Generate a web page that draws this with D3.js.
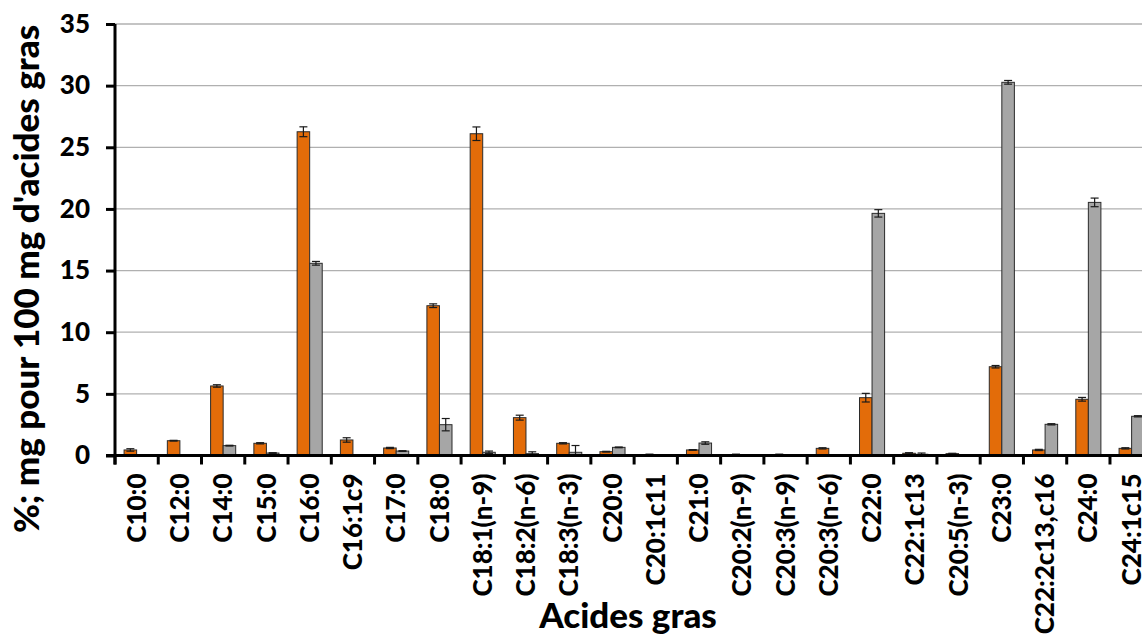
<!DOCTYPE html>
<html>
<head>
<meta charset="utf-8">
<script src="https://cdn.jsdelivr.net/npm/d3@7"></script>
<style>
  html, body { margin: 0; padding: 0; background: #fff; }
  svg { display: block; }
  text { font-family: Lato, "Open Sans", sans-serif; font-weight: 900; fill: #000; }
</style>
</head>
<body>
<svg id="chart" width="1142" height="637"></svg>
<script>
const categories = ["C10:0","C12:0","C14:0","C15:0","C16:0","C16:1c9","C17:0","C18:0","C18:1(n-9)","C18:2(n-6)","C18:3(n-3)","C20:0","C20:1c11","C21:0","C20:2(n-9)","C20:3(n-9)","C20:3(n-6)","C22:0","C22:1c13","C20:5(n-3)","C23:0","C22:2c13,c16","C24:0","C24:1c15"];
const seriesA = [0.45, 1.2, 5.64, 0.99, 26.26, 1.26, 0.61, 12.15, 26.1, 3.07, 0.99, 0.31, 0.08, 0.45, 0.08, 0.08, 0.58, 4.69, 0.18, 0.15, 7.2, 0.45, 4.56, 0.58];
const errorsA = [0.1, 0.03, 0.1, 0.05, 0.4, 0.18, 0.05, 0.15, 0.55, 0.2, 0.05, 0.03, 0.03, 0.03, 0.03, 0.03, 0.05, 0.35, 0.05, 0.03, 0.1, 0.05, 0.15, 0.05];
const seriesB = [0, 0, 0.8, 0.2, 15.59, 0, 0.36, 2.5, 0.26, 0.15, 0.26, 0.66, 0, 1.01, 0, 0, 0, 19.64, 0.1, 0, 30.27, 2.53, 20.53, 3.18];
const errorsB = [0, 0, 0.03, 0.03, 0.15, 0, 0.03, 0.5, 0.1, 0.15, 0.55, 0.03, 0, 0.1, 0, 0, 0, 0.3, 0.1, 0, 0.15, 0.05, 0.35, 0.05];
const yTicks = [0, 5, 10, 15, 20, 25, 30, 35];
const yTitle = "%; mg pour 100 mg d'acides gras";
const xTitle = "Acides gras";

const svg = d3.select("#chart");
const mLeft = 115, mTop = 24, mBottom = 455.5, step = 43.26;
const mRight = mLeft + step * categories.length;

const x = d3.scaleBand().domain(categories).range([mLeft, mRight]).padding(0);
const y = d3.scaleLinear().domain([0, 35]).range([mBottom, mTop]);
const bw = x.bandwidth() * 0.29;

// gridlines
svg.append("g").selectAll("line").data(yTicks.filter(d => d > 0)).join("line")
  .attr("x1", mLeft).attr("x2", 1142)
  .attr("y1", d => y(d)).attr("y2", d => y(d))
  .attr("stroke", "#b0b0b0").attr("stroke-width", 1.3);

// bars
const g = svg.append("g");
function drawSeries(vals, errs, color, offset) {
  g.append("g").selectAll("rect").data(categories).join("rect")
    .attr("x", d => x(d) + x.bandwidth() / 2 + offset)
    .attr("width", bw)
    .attr("y", (d, i) => y(vals[i]))
    .attr("height", (d, i) => y(0) - y(vals[i]))
    .attr("fill", color)
    .attr("stroke", "#2b2b2b").attr("stroke-width", 1);
  const eg = g.append("g").attr("stroke", "#1a1a1a").attr("stroke-width", 1.2);
  categories.forEach((c, i) => {
    if (!errs[i]) return;
    const cx = x(c) + x.bandwidth() / 2 + offset + bw / 2;
    const y1 = y(vals[i] + errs[i]), y2 = y(Math.max(0, vals[i] - errs[i]));
    eg.append("line").attr("x1", cx).attr("x2", cx).attr("y1", y1).attr("y2", y2);
    eg.append("line").attr("x1", cx - 4).attr("x2", cx + 4).attr("y1", y1).attr("y2", y1);
    eg.append("line").attr("x1", cx - 4).attr("x2", cx + 4).attr("y1", y2).attr("y2", y2);
  });
}
drawSeries(seriesA, errorsA, "#E36C09", -bw);
drawSeries(seriesB, errorsB, "#A6A6A6", 0);

// y axis
const yAxis = svg.append("g").attr("transform", `translate(${mLeft},0)`)
  .call(d3.axisLeft(y).tickValues(yTicks).tickSize(9).tickPadding(16).tickFormat(d3.format("d")));
yAxis.select(".domain").attr("stroke", "#000").attr("stroke-width", 3).attr("d", `M0,${mTop}V${mBottom + 9}`);
yAxis.selectAll(".tick line").attr("stroke", "#000").attr("stroke-width", 3);
yAxis.selectAll(".tick text").style("font-size", "26px").style("font-family", "Lato, sans-serif").style("font-weight", "900");

// x axis
const xAxis = svg.append("g").attr("transform", `translate(0,${mBottom})`)
  .call(d3.axisBottom(x).tickSize(0).tickPadding(0));
xAxis.select(".domain").attr("stroke", "#000").attr("stroke-width", 3).attr("d", `M${mLeft - 9},0H1142`);
xAxis.selectAll(".tick text")
  .style("font-size", "26px").style("font-family", "Lato, sans-serif").style("font-weight", "900")
  .attr("text-anchor", "end").attr("dy", "0.35em")
  .attr("transform", "translate(0,18) rotate(-90)")
  .attr("y", 0).attr("x", 0);
const bounds = categories.map(c => x(c)).concat([mRight]);
xAxis.append("g").selectAll("line").data(bounds.filter(b => b <= 1142)).join("line")
  .attr("x1", d => d).attr("x2", d => d).attr("y1", 0).attr("y2", 9)
  .attr("stroke", "#000").attr("stroke-width", 3);

// titles
svg.append("text").attr("transform", `translate(39,279) rotate(-90)`)
  .attr("text-anchor", "middle").style("font-size", "35px").text(yTitle);
svg.append("text").attr("x", 628).attr("y", 628)
  .attr("text-anchor", "middle").style("font-size", "35px").text(xTitle);
</script>
</body>
</html>
